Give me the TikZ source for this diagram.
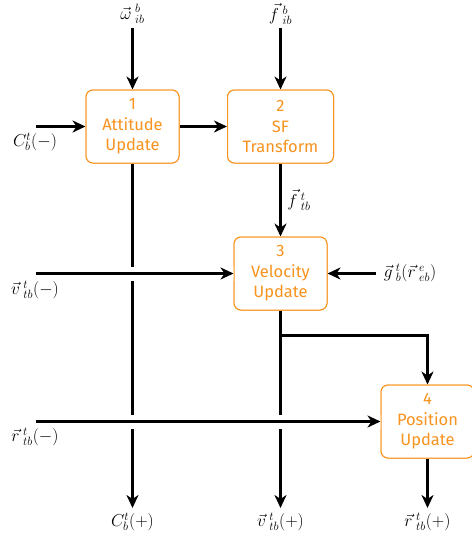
\documentclass[tikz,border=0pt]{standalone}
\usepackage{fontspec}
\setsansfont{Fira Sans}
\usetikzlibrary{arrows.meta}
\definecolor{boxorange}{RGB}{247,147,30}
\newcommand{\vsc}[3]{\vec{#1}\hspace{3.5pt}{}^{#2}_{#3}}
\begin{document}
\begin{tikzpicture}[x=1pt,y=-1pt,
  blockbox/.style={draw=boxorange, line width=1pt, rounded corners=7pt, fill=white,
    text=boxorange, align=center, minimum width=93pt, minimum height=73pt, inner sep=4pt,
    font=\sffamily\fontsize{16.5}{20.5}\selectfont},
  lbl/.style={font=\fontsize{16.5}{19}\selectfont, inner sep=0pt},
  tip/.style={-{Stealth[length=13pt,width=12pt,inset=4pt]}},
  flow/.style={line width=2.7pt, tip},
  crossing/.style={flow, preaction={draw=white, line width=14pt, -}}]
\useasboundingbox (0,0) rectangle (472,542);
% box positions
\coordinate (c1) at (132.5,126.5);
\coordinate (c2) at (280.5,126.5);
\coordinate (c3) at (280.5,273.5);
\coordinate (c4) at (427.5,421.5);
\node[blockbox, minimum width=93pt] (b1) at (c1) {1\\Attitude\\Update};
\node[blockbox, minimum width=106pt] (b2) at (c2) {2\\SF\\Transform};
\node[blockbox] (b3) at (c3) {3\\Velocity\\Update};
\node[blockbox, minimum width=93pt] (b4) at (c4) {4\\Position\\Update};
% coordinates for free ends
\coordinate (wIn) at (132.5,28);
\coordinate (fIn) at (280.5,28);
\coordinate (cIn) at (36,126.5);
\coordinate (vIn) at (36,273.5);
\coordinate (rIn) at (36,421.5);
\coordinate (gIn) at (376,273.5);
\coordinate (cOut) at (132.5,508);
\coordinate (vOut) at (280.5,508);
\coordinate (rOut) at (427.5,508);
\coordinate (split) at (280.5,335.5);
% vertical outputs
\draw[flow] (b1.south) -- (cOut);
\draw[flow] (b3.south) -- (vOut);
\draw[flow] (split) -| (b4.north);
\draw[flow] (b4.south) -- (rOut);
% inputs
\draw[flow] (wIn) -- (b1.north);
\draw[flow] (fIn) -- (b2.north);
\draw[flow] (cIn) -- (b1.west);
\draw[flow] (b1.east) -- (b2.west);
\draw[flow] (b2.south) -- (b3.north);
\draw[flow] (gIn) -- (b3.east);
\draw[crossing] (vIn) -- (b3.west);
\draw[crossing] (rIn) -- (b4.west);
% redraw boxes on top
\node[blockbox, minimum width=93pt] at (c1) {1\\Attitude\\Update};
\node[blockbox, minimum width=106pt] at (c2) {2\\SF\\Transform};
\node[blockbox] at (c3) {3\\Velocity\\Update};
\node[blockbox, minimum width=93pt] at (c4) {4\\Position\\Update};
% labels
\node[lbl] (lw) at (132.5,14) {$\vsc{\omega}{b}{ib}$};
\node[lbl] (lf) at (280.5,14) {$\vsc{f}{b}{ib}$};
\node[lbl] (lc) at (35,142) {$C^t_b(-)$};
\node[lbl] (lv) at (35,290) {$\vsc{v}{t}{tb}(-)$};
\node[lbl] (lr) at (35,437) {$\vsc{r}{t}{tb}(-)$};
\node[lbl] (lft) at (299,200) {$\vsc{f}{t}{tb}$};
\node[lbl] (lg) at (410,273) {$\vsc{g}{t}{b}(\vsc{r}{e}{eb})$};
\node[lbl] (lco) at (132.5,522) {$C^t_b(+)$};
\node[lbl] (lvo) at (280.5,522) {$\vsc{v}{t}{tb}(+)$};
\node[lbl] (lro) at (427.5,522) {$\vsc{r}{t}{tb}(+)$};
\end{tikzpicture}
\end{document}
